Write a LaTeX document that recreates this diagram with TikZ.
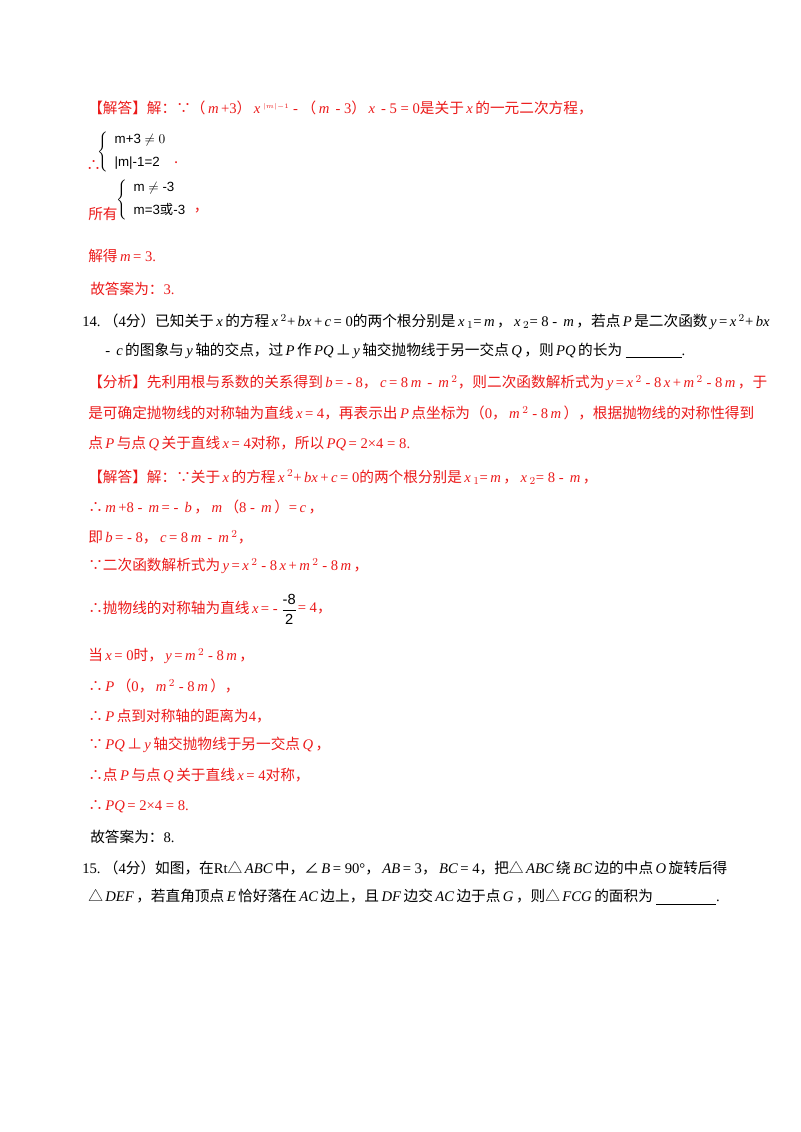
\documentclass[tikz,border=0pt]{standalone}
\usepackage{fontspec}
\setmainfont{Noto Sans CJK SC}
\newfontfamily\lat{Liberation Serif}
\newfontfamily\ls{Liberation Sans}
\newfontfamily\cj{Noto Sans CJK SC}
\newcommand{\mi}[1]{\,{\lat\itshape #1}\,}
\newcommand{\rn}[1]{{\lat #1}}
\definecolor{ans}{RGB}{235,25,25}
\begin{document}
\begin{tikzpicture}[x=0.75pt,y=-0.75pt,
  t/.style={anchor=west,inner sep=0pt,font=\fontsize{11}{13}\selectfont},
  r/.style={t,text=ans},
  br/.style={t,font=\ls\fontsize{10}{12}\selectfont}]
\useasboundingbox (0,0) rectangle (800,1132);
\node[r] (l1) at (88,108) {【解答】解：∵（\mi{m}\rn{+3}）\mi{x}$^{\scriptscriptstyle |m|-1}$\rn{ - }（\mi{m}\rn{ - 3}）\mi{x}\rn{ - 5 = 0}是关于\mi{x}的一元二次方程，};
\node[r] (l2) at (86,165) {∴};
\node[br] (b1) at (97,152) {$\left\{\begin{array}{l}\mbox{m+3}\neq 0\\[5pt] \mbox{|m|-1=2}\end{array}\right.$};
\node[r] at (b1.east) [anchor=west,yshift=-8pt] {.};
\node[r] (l3) at (88,214) {所有};
\node[br] (b2) at (116,200) {$\left\{\begin{array}{l}\mbox{m}\neq\mbox{-3}\\[5pt] \mbox{m=3{\cj 或}-3}\end{array}\right.$};
\node[r] at (b2.east) [anchor=west,yshift=-8pt] {，};
\node[r] (l4) at (88,256) {解得\mi{m}\rn{= 3.}};
\node[r] (l5) at (90,289) {故答案为：\rn{3.}};
\node[t] (q1) at (82,322) {\rn{14.}\ （\rn{4}分）已知关于\mi{x}的方程\mi{x}$^2$\rn{+}\mi{bx}\rn{+}\mi{c}\rn{= 0}的两个根分别是\mi{x}$_1$\rn{=}\mi{m}，\mi{x}$_2$\rn{= 8 - }\mi{m}，若点\mi{P}是二次函数\mi{y}\rn{=}\mi{x}$^2$\rn{+}\mi{bx}};
\node[t] (q2) at (105,351) {\rn{- }\mi{c}的图象与\mi{y}轴的交点，过\mi{P}作\mi{PQ}⊥\mi{y}轴交抛物线于另一交点\mi{Q}，则\mi{PQ}的长为 \underline{\hspace{42pt}}\rn{.}};
\node[r] (a1) at (88,383) {【分析】先利用根与系数的关系得到\mi{b}\rn{= - 8}，\mi{c}\rn{= 8}\mi{m}\rn{ - }\mi{m}$^2$，则二次函数解析式为\mi{y}\rn{=}\mi{x}$^2$\rn{ - 8}\mi{x}\rn{+}\mi{m}$^2$\rn{ - 8}\mi{m}，于};
\node[r] (a2) at (88,413) {是可确定抛物线的对称轴为直线\mi{x}\rn{= 4}，再表示出\mi{P}点坐标为（\rn{0}，\mi{m}$^2$\rn{ - 8}\mi{m}），根据抛物线的对称性得到};
\node[r] (a3) at (88,444) {点\mi{P}与点\mi{Q}关于直线\mi{x}\rn{= 4}对称，所以\mi{PQ}\rn{= 2×4 = 8.}};
\node[r] (s1) at (88,477) {【解答】解：∵关于\mi{x}的方程\mi{x}$^2$\rn{+}\mi{bx}\rn{+}\mi{c}\rn{= 0}的两个根分别是\mi{x}$_1$\rn{=}\mi{m}，\mi{x}$_2$\rn{= 8 - }\mi{m}，};
\node[r] (s2) at (88,507) {∴\mi{m}\rn{+8 - }\mi{m}\rn{= - }\mi{b}，\mi{m}（\rn{8 - }\mi{m}）\rn{=}\mi{c}，};
\node[r] (s3) at (88,537) {即\mi{b}\rn{= - 8}，\mi{c}\rn{= 8}\mi{m}\rn{ - }\mi{m}$^2$，};
\node[r] (s4) at (88,566) {∵二次函数解析式为\mi{y}\rn{=}\mi{x}$^2$\rn{ - 8}\mi{x}\rn{+}\mi{m}$^2$\rn{ - 8}\mi{m}，};
\node[r] (s5) at (88,608) {∴抛物线的对称轴为直线\mi{x}\rn{= - }};
\node[t,font=\ls\fontsize{11}{12}\selectfont] (fr) at (s5.east) [xshift=2pt,yshift=-1pt] {$\displaystyle\frac{\mbox{-8}}{\mbox{2}}$};
\node[r] at (fr.east) [yshift=1pt] {\rn{= 4}，};
\node[r] (s6) at (88,656) {当\mi{x}\rn{= 0}时，\mi{y}\rn{=}\mi{m}$^2$\rn{ - 8}\mi{m}，};
\node[r] (s7) at (88,686) {∴\mi{P}（\rn{0}，\mi{m}$^2$\rn{ - 8}\mi{m}），};
\node[r] (s8) at (88,716) {∴\mi{P}点到对称轴的距离为\rn{4}，};
\node[r] (s9) at (88,745) {∵\mi{PQ}⊥\mi{y}轴交抛物线于另一交点\mi{Q}，};
\node[r] (s10) at (88,776) {∴点\mi{P}与点\mi{Q}关于直线\mi{x}\rn{= 4}对称，};
\node[r] (s11) at (88,807) {∴\mi{PQ}\rn{= 2×4 = 8.}};
\node[t] (s12) at (90,837) {故答案为：\rn{8.}};
\node[t] (q3) at (82,868) {\rn{15.}\ （\rn{4}分）如图，在\rn{Rt}△\mi{ABC}中，∠\mi{B}\rn{= 90°}，\mi{AB}\rn{= 3}，\mi{BC}\rn{= 4}，把△\mi{ABC}绕\mi{BC}边的中点\mi{O}旋转后得};
\node[t] (q4) at (88,897) {△\mi{DEF}，若直角顶点\mi{E}恰好落在\mi{AC}边上，且\mi{DF}边交\mi{AC}边于点\mi{G}，则△\mi{FCG}的面积为 \underline{\hspace{45pt}}\rn{.}};
\end{tikzpicture}
\end{document}
